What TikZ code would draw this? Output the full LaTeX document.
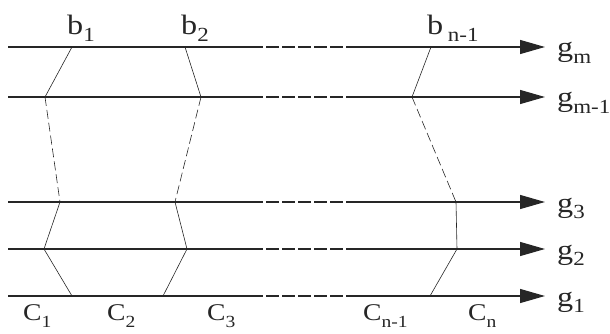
\documentclass[tikz,border=0pt]{standalone}
\usepackage{fontspec}
\setmainfont{Liberation Serif}
\usetikzlibrary{arrows.meta,positioning}
\definecolor{ink}{HTML}{262626}
\newcommand{\lsub}[3][0.22em]{\scalebox{1.15}[1]{#2\raisebox{-#1}{\fontsize{20}{20}\selectfont #3}}}
\newcommand{\csub}[2]{\scalebox{1.15}[1]{#1\raisebox{-0.3em}{\fontsize{17}{17}\selectfont #2}}}
\tikzset{
  lvl/.style={draw=ink,line width=1.1pt},
  gap/.style={lvl,dash pattern=on 13pt off 3pt,dash phase=13pt},
  tip/.style={-{Triangle[length=25pt,width=14pt]}},
  seg/.style={draw=ink,line width=0.6pt},
  dseg/.style={seg,dash pattern=on 9pt off 4pt},
  lab/.style={inner sep=0pt,anchor=base west,text=ink,font=\fontsize{28}{30}\selectfont},
  clab/.style={lab,font=\fontsize{24}{28}\selectfont},
}

\begin{document}
\begin{tikzpicture}[x=1pt,y=-1pt]
\useasboundingbox (0,0) rectangle (610,334);
% levels g_1 .. g_m
\foreach \n/\y/\t in {m/47/m, ml/97/m-1, c/202/3, b/249/2, a/296/1}{
  \coordinate (L\n) at (8,\y);
  \coordinate (D\n) at (263,\y);
  \coordinate (E\n) at (346,\y);
  \coordinate (T\n) at (545,\y);
  \node[lab] (g\n) at (557,\y+10) {\lsub{g}{\t}};
  \draw[lvl] (L\n) -- (D\n);
  \draw[gap] (D\n) -- (E\n);
  \draw[lvl,tip] (E\n) -- (T\n);
}
% boundaries b_k
\foreach \k/\a/\b/\c/\d/\e in {1/72/45/60/44/72, 2/185/201/175/187/163, 3/431/412/456/457/430}{
  \coordinate (p\k1) at (\a,47);
  \coordinate (p\k2) at (\b,97);
  \coordinate (p\k3) at (\c,202);
  \coordinate (p\k4) at (\d,249);
  \coordinate (p\k5) at (\e,296);
  \draw[seg] (p\k1) -- (p\k2);
  \draw[dseg] (p\k2) -- (p\k3);
  \draw[seg] (p\k3) -- (p\k4) -- (p\k5);
}
\node[lab] (b1) at (67,35) {\lsub{b}{1}};
\node[lab] (b2) at (181,35) {\lsub{b}{2}};
\node[lab] (b3) at (427,35) {\lsub{b\hspace{4pt}}{n-1}};
% cells C_k
\node[clab] (c1) at (23,320) {\csub{C}{1}};
\node[clab] (c2) at (107,320) {\csub{C}{2}};
\node[clab] (c3) at (207,320) {\csub{C}{3}};
\node[clab] (c4) at (363,320) {\csub{C}{n-1}};
\node[clab] (c5) at (468,320) {\csub{C}{n}};
\end{tikzpicture}
\end{document}
